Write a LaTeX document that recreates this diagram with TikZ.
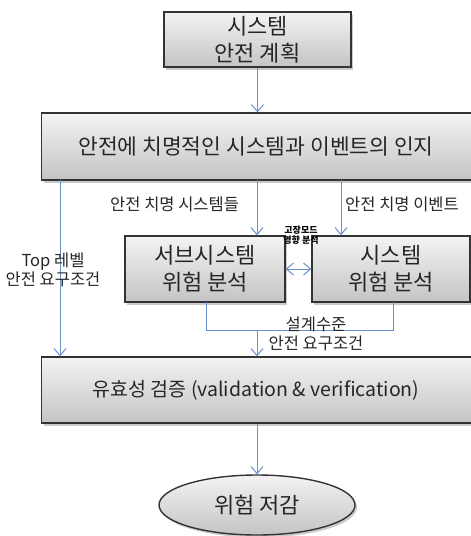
\documentclass[tikz,border=0pt]{standalone}
\usepackage{fontspec}
\setmainfont{Noto Sans CJK KR}
\usetikzlibrary{arrows.meta,shadows,shapes.geometric}
\definecolor{arr}{RGB}{105,145,205}
\definecolor{boxtop}{RGB}{243,243,243}
\definecolor{boxbot}{RGB}{196,196,196}
\tikzset{
  gbox/.style={draw=black!80, line width=1.4pt, top color=boxtop, bottom color=boxbot,
    drop shadow={shadow xshift=2pt, shadow yshift=-2.5pt, fill=black!35, opacity=0.6},
    align=center, inner sep=0pt, text=black!85},
  big/.style={font=\fontsize{21.5}{26}\selectfont, text=black!85, inner sep=0pt},
  mid/.style={font=\fontsize{22}{27}\selectfont},
  conn/.style={draw=arr, line width=1pt},
  arrowed/.style={conn, -{Straight Barb[length=7pt,width=12pt,line width=1pt]}},
  lbl/.style={font=\fontsize{16.5}{19}\selectfont, align=center, text=black!85, inner sep=0pt}
}
\begin{document}
\begin{tikzpicture}[x=1pt,y=-1pt]
\useasboundingbox (0,0) rectangle (471,536);
% boxes
\node[gbox, mid, minimum width=187pt, minimum height=55pt] (top) at (257.5,39.5) {시스템\\안전 계획};
\node[gbox, minimum width=436pt, minimum height=67pt, anchor=west] (rec) at (41,146.5) {};
\node[big] (rect) at (256,146.5) {안전에 치명적인 시스템과 이벤트의 인지};
\node[gbox, mid, minimum width=160pt, minimum height=66pt] (sub) at (205,269) {서브시스템\\위험 분석};
\node[gbox, mid, minimum width=158pt, minimum height=66pt] (sys) at (391,269) {시스템\\위험 분석};
\node[gbox, minimum width=436pt, minimum height=66pt, anchor=west] (val) at (41,390) {};
\node[big, font=\fontsize{19.5}{24}\selectfont] (valt) at (256,390) {유효성 검증 (validation \& verification)};
\node[gbox, mid, ellipse, minimum width=196pt, minimum height=60pt] (end) at (257,505) {위험 저감};
% coordinates
\coordinate (r1) at (60,180);
\coordinate (r2) at (257,180);
\coordinate (r3) at (341,180);
\coordinate (s1) at (206,302);
\coordinate (s2) at (393,302);
\coordinate (j1) at (206,330);
\coordinate (j2) at (393,330);
\coordinate (jm) at (257,330);
% connectors
\draw[arrowed] (top.south) -- (rec.north -| top.south);
\draw[arrowed] (r1) -- (r1 |- val.north);
\draw[arrowed] (r2) -- (r2 |- sub.north);
\draw[arrowed] (r3) -- (r3 |- sys.north);
\draw[conn] (s1) -- (j1) -- (j2) -- (s2);
\draw[arrowed] (jm) -- (jm |- val.north);
\draw[arrowed] (val.south -| jm) -- (end.north);
\draw[conn, {Straight Barb[length=7pt,width=12pt,line width=1pt]}-{Straight Barb[length=7pt,width=12pt,line width=1pt]}] (sub.east) -- (sys.west);
% labels
\node[lbl, anchor=west] (l1) at (110,204) {안전 치명 시스템들};
\node[lbl, anchor=west] (l2) at (345,204) {안전 치명 이벤트};
\node[lbl] (l3) at (53,270) {Top 레벨\\안전 요구조건};
\node[lbl] (l4) at (316,334) {설계수준\\안전 요구조건};
\node[font=\bfseries\fontsize{9}{10.5}\selectfont, align=center, inner sep=0pt, text=black] (l5) at (301,235) {고장모드\\영향 분석};
\end{tikzpicture}
\end{document}
